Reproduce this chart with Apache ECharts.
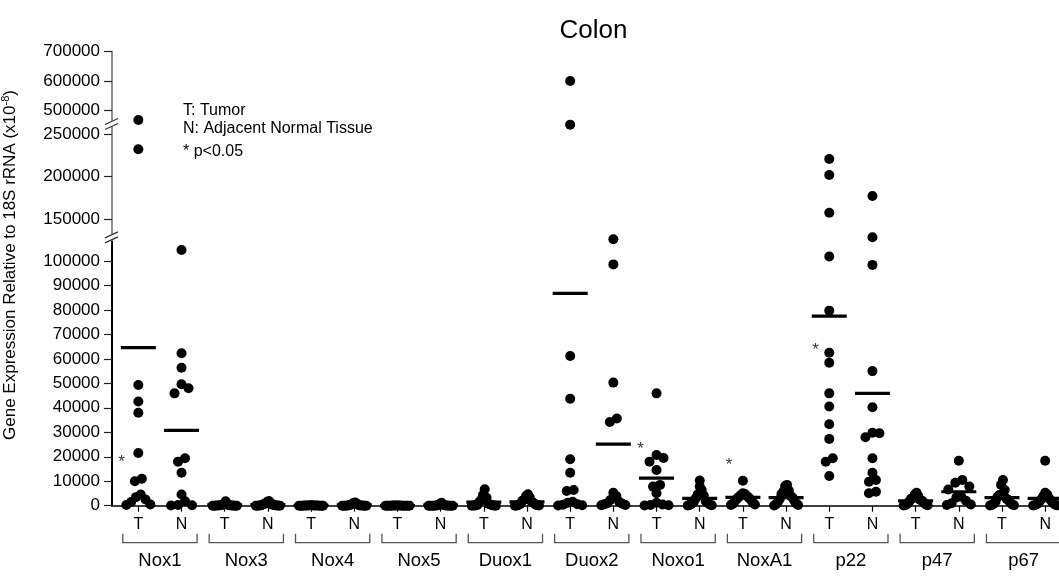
<!DOCTYPE html>
<html><head><meta charset="utf-8">
<script src="https://cdn.jsdelivr.net/npm/echarts@6/dist/echarts.min.js"></script>
<style>html,body{margin:0;padding:0;background:#fff}#c{width:1059px;height:576px}</style>
</head><body><div id="c"></div>
<script>
// ---------------- data ----------------
const genes = ['Nox1','Nox3','Nox4','Nox5','Duox1','Duox2','Noxo1','NoxA1','p22','p47','p67'];
const groupLabels = ['T','N'];
const nox1_T  = [468000, 232000, 49300, 42600, 38000, 21500, 11000, 10000, 4600, 3500, 2500, 1500, 500, 300];
const nox1_N  = [104500, 62300, 56400, 49600, 48000, 45900, 19400, 18000, 13500, 4600, 1800, 300, 200, 100];
const nox3_T  = [1800, 600, 400, 300, 200, 200, 100, 100, 50, 50, 30, 20, 10, 10];
const nox3_N  = [1900, 1500, 1200, 800, 600, 400, 300, 200, 100, 100, 50, 30, 20, 10];
const nox4_T  = [200, 150, 100, 100, 80, 60, 50, 40, 30, 20, 10, 10, 5, 5];
const nox4_N  = [1300, 1100, 800, 500, 300, 200, 100, 80, 50, 30, 20, 10, 5, 5];
const nox5_T  = [100, 80, 60, 50, 40, 30, 20, 10, 10, 5, 5, 5, 2, 2];
const nox5_N  = [1200, 600, 300, 200, 100, 80, 50, 30, 20, 10, 10, 5, 5, 2];
const duox1_T = [6700, 4400, 3200, 2300, 1500, 800, 500, 300, 200, 100, 100, 50, 30, 10];
const duox1_N = [4700, 4000, 3400, 2400, 2000, 1600, 1200, 800, 500, 300, 200, 100, 50, 20];
const duox2_T = [600000, 452000, 61200, 43700, 19000, 13500, 6400, 6000, 1600, 1200, 600, 400, 200, 100];
const duox2_N = [108900, 98600, 50300, 35600, 34200, 5300, 4000, 2300, 1500, 1000, 800, 600, 300, 200];
const noxo1_T = [45900, 20700, 19500, 18000, 14600, 8500, 7800, 5100, 1200, 500, 300, 200, 100];
const noxo1_N = [10300, 7800, 6400, 4600, 4200, 3000, 1800, 1500, 1200, 800, 500, 300, 200, 100];
const noxa1_T = [10200, 5100, 4800, 4400, 4000, 3600, 3200, 2800, 2400, 1800, 1200, 800, 500, 300];
const noxa1_N = [8500, 8000, 6200, 5700, 4800, 4000, 3300, 2600, 2000, 1400, 900, 500, 300, 100];
const p22_T   = [220600, 201800, 157400, 101800, 79700, 62500, 58400, 45900, 40500, 33300, 27300, 19400, 18000, 12100];
const p22_N   = [177100, 109700, 98400, 55000, 40200, 29800, 29600, 28000, 19400, 13500, 10500, 9800, 5700, 5100];
const p47_T   = [5300, 4600, 3800, 3200, 2800, 2300, 2000, 1600, 1200, 800, 500, 300, 200, 100];
const p47_N   = [18400, 10500, 9400, 7800, 6600, 3700, 3400, 2000, 1000, 500, 300];
const p67_T   = [10500, 8500, 6400, 4400, 3500, 2800, 2200, 1600, 1200, 800, 500, 300, 200, 100];
const p67_N   = [18400, 5300, 4600, 3800, 3000, 2500, 2000, 1500, 1000, 700, 400, 300, 200, 100];
const means   = [64600, 30800, 300, 500, 100, 300, 50, 200, 1500, 1600, 86800, 25200, 11300, 3000, 3400, 3300, 77500, 45900, 2000, 5700, 3300, 3000];
const lowTicks = [0, 10000, 20000, 30000, 40000, 50000, 60000, 70000, 80000, 90000, 100000];
const midTicks = [150000, 200000, 250000];
const topTicks = [500000, 600000, 700000];
const starCols   = [0, 11, 14, 16];
const starLevels = [17800, 23100, 16300, 63600];
const legendLines = ['T: Tumor', 'N: Adjacent Normal Tissue', '* p<0.05'];

// ---------------- layout / style ----------------
const columns = [nox1_T, nox1_N, nox3_T, nox3_N, nox4_T, nox4_N, nox5_T, nox5_N, duox1_T, duox1_N,
  duox2_T, duox2_N, noxo1_T, noxo1_N, noxa1_T, noxa1_N, p22_T, p22_N, p47_T, p47_N, p67_T, p67_N];
const starSide = [-0.39, 0.63, -0.32, -0.32];
const FONT = '"Liberation Sans", Arial, Helvetica, sans-serif';
const X_MIN = -0.61, X_MAX = 21.32;
const G = { left: 112, right: 0, outerBoundsMode: 'none', containLabel: false };
const segOf = v => v < 120000 ? 0 : (v < 300000 ? 1 : 2);

const points = [];
columns.forEach((arr, c) => arr.forEach(v => points.push({ c, v, s: segOf(v), dx: 0 })));

const chart = echarts.init(document.getElementById('c'));

function yAx(grid, min, max, ticks, lineColor, lineWidth) {
  return {
    gridIndex: grid, type: 'value', min, max,
    axisLine: { show: true, onZero: false, lineStyle: { color: lineColor, width: lineWidth } },
    axisTick: { show: true, customValues: ticks, length: 8, lineStyle: { color: '#222', width: 1.2 } },
    axisLabel: { show: true, customValues: ticks, margin: 12, fontSize: 17, fontFamily: FONT, color: '#000',
      formatter: v => String(v) },
    splitLine: { show: false }
  };
}

function buildSeries() {
  const s = [];
  for (let g = 0; g < 3; g++) {
    s.push({
      type: 'scatter', xAxisIndex: g, yAxisIndex: g, clip: false, silent: true,
      symbol: 'circle', symbolSize: 10, itemStyle: { color: '#000', opacity: 1 }, z: 2,
      data: points.filter(p => p.s === g).map(p => [p.c + p.dx, p.v])
    });
  }
  s.push({
    type: 'scatter', xAxisIndex: 0, yAxisIndex: 0, clip: false, silent: true,
    symbol: 'rect', symbolSize: [35, 3.2], itemStyle: { color: '#000', opacity: 1 }, z: 3,
    data: means.map((m, i) => [i, m])
  });
  s.push({
    type: 'scatter', xAxisIndex: 0, yAxisIndex: 0, clip: false, silent: true,
    symbol: 'circle', symbolSize: 1, itemStyle: { color: 'rgba(0,0,0,0)' }, z: 4,
    label: { show: true, position: 'inside', formatter: '*', fontSize: 17, fontFamily: FONT, color: '#000' },
    data: starCols.map((c, i) => [c + starSide[i], starLevels[i]])
  });
  s.push({
    type: 'custom', xAxisIndex: 3, yAxisIndex: 3, clip: false, silent: true,
    data: genes.map((g, i) => [i, 0]),
    encode: { x: 0, y: 1 },
    renderItem: (params, api) => {
      const c = 2 * api.value(0) + 0.5;
      const a = api.coord([c - 0.86, 0]);
      const b = api.coord([c + 0.86, 0]);
      const y0 = a[1];
      return {
        type: 'polyline',
        shape: { points: [[a[0], y0 + 28], [a[0], y0 + 37], [b[0], y0 + 37], [b[0], y0 + 28]] },
        style: { stroke: '#555', lineWidth: 1.3, fill: null }
      };
    }
  });
  return s;
}

const colTicks = columns.map((_, i) => i);
const geneCenters = genes.map((_, i) => 2 * i + 0.5);

const option = {
  animation: false,
  backgroundColor: '#fff',
  grid: [
    Object.assign({ top: 241.4, bottom: 70.3 }, G),
    Object.assign({ top: 127.2, bottom: 342.55 }, G),
    Object.assign({ top: 51.5, bottom: 455.2 }, G),
    Object.assign({ top: 241.4, bottom: 70.3 }, G),
    Object.assign({ top: 88, bottom: 134 }, G)
  ],
  xAxis: [
    { gridIndex: 0, type: 'value', min: X_MIN, max: X_MAX,
      axisLine: { show: true, onZero: false, lineStyle: { color: '#000', width: 1.6 } },
      axisTick: { show: true, customValues: colTicks, length: 6, lineStyle: { color: '#000', width: 1.2 } },
      axisLabel: { show: true, customValues: colTicks, margin: 11, fontSize: 16, fontFamily: FONT, color: '#000',
        formatter: v => groupLabels[Math.round(v) % 2] },
      splitLine: { show: false } },
    { gridIndex: 1, type: 'value', min: X_MIN, max: X_MAX, show: false },
    { gridIndex: 2, type: 'value', min: X_MIN, max: X_MAX, show: false },
    { gridIndex: 3, type: 'value', min: X_MIN, max: X_MAX,
      axisLine: { show: false }, axisTick: { show: false }, splitLine: { show: false },
      axisLabel: { show: true, customValues: geneCenters, margin: 46, fontSize: 18.5, fontFamily: FONT, color: '#000',
        formatter: v => genes[Math.round((v - 0.5) / 2)] } },
    { gridIndex: 4, type: 'value', min: 0, max: 1, show: false }
  ],
  yAxis: [
    yAx(0, 0, 108000, lowTicks, '#000', 2),
    yAx(1, 133000, 258000, midTicks, '#6a6a6a', 1.5),
    yAx(2, 465000, 700000, topTicks, '#6a6a6a', 1.5),
    { gridIndex: 3, type: 'value', min: 0, max: 1, show: false },
    { gridIndex: 4, type: 'value', min: 0, max: 1,
      axisLine: { show: false }, axisTick: { show: false }, axisLabel: { show: false }, splitLine: { show: false },
      name: 'Gene Expression Relative to 18S rRNA (x10{sup|-8})',
      nameLocation: 'middle', nameGap: 92, nameRotate: 90,
      nameTextStyle: { fontSize: 17, fontFamily: FONT, color: '#000', lineHeight: 20,
        rich: { sup: { fontSize: 11, fontFamily: FONT, color: '#000', verticalAlign: 'top' } } } }
  ],
  graphic: [],
  series: buildSeries()
};

// axis-break marks and texts
const breaks = [(120.8 + 127.2) / 2, (233.45 + 241.4) / 2];
breaks.forEach(yc => {
  [-2.5, 2.5].forEach(d => option.graphic.push({
    type: 'line', silent: true,
    shape: { x1: 105, y1: yc + d + 3, x2: 118, y2: yc + d - 3 },
    style: { stroke: '#333', lineWidth: 1.3 }
  }));
});
option.graphic.push({
  type: 'text', x: 593.5, y: 31, silent: true,
  style: { text: 'Colon', font: '26px ' + FONT, fill: '#000', align: 'center', verticalAlign: 'middle',
    textAlign: 'center', textVerticalAlign: 'middle' }
});
const legendY = [111, 129, 152];
legendLines.forEach((t, i) => option.graphic.push({
  type: 'text', x: 183, y: legendY[i], silent: true,
  style: { text: t, font: '16px ' + FONT, fill: '#000', align: 'left', verticalAlign: 'middle',
    textAlign: 'left', textVerticalAlign: 'middle' }
}));

chart.setOption(option);

// ------- swarm layout: spread overlapping dots horizontally (positions only) -------
const p0 = chart.convertToPixel({ xAxisIndex: 0, yAxisIndex: 0 }, [0, 0]);
const p1 = chart.convertToPixel({ xAxisIndex: 0, yAxisIndex: 0 }, [1, 0]);
const bandPx = p1[0] - p0[0];
points.forEach(p => { p.py = chart.convertToPixel({ xAxisIndex: p.s, yAxisIndex: p.s }, [p.c, p.v])[1]; });
columns.forEach((_, c) => {
  const pts = points.filter(p => p.c === c).sort((a, b) => a.py - b.py);
  let cluster = [];
  const flush = () => {
    const k = cluster.length;
    if (k > 1) {
      const w = Math.min(24, (k - 1) * 7);
      const slots = [];
      for (let j = 0; j < k; j++) slots.push(-w / 2 + j * w / (k - 1));
      slots.sort((a, b) => Math.abs(a) - Math.abs(b) || b - a);
      cluster.forEach((p, j) => { p.dx = slots[j] / bandPx; });
    }
    cluster = [];
  };
  pts.forEach(p => {
    if (cluster.length && p.py - cluster[cluster.length - 1].py > 6) flush();
    cluster.push(p);
  });
  flush();
});
chart.setOption({ series: buildSeries() });
</script>
</body></html>
